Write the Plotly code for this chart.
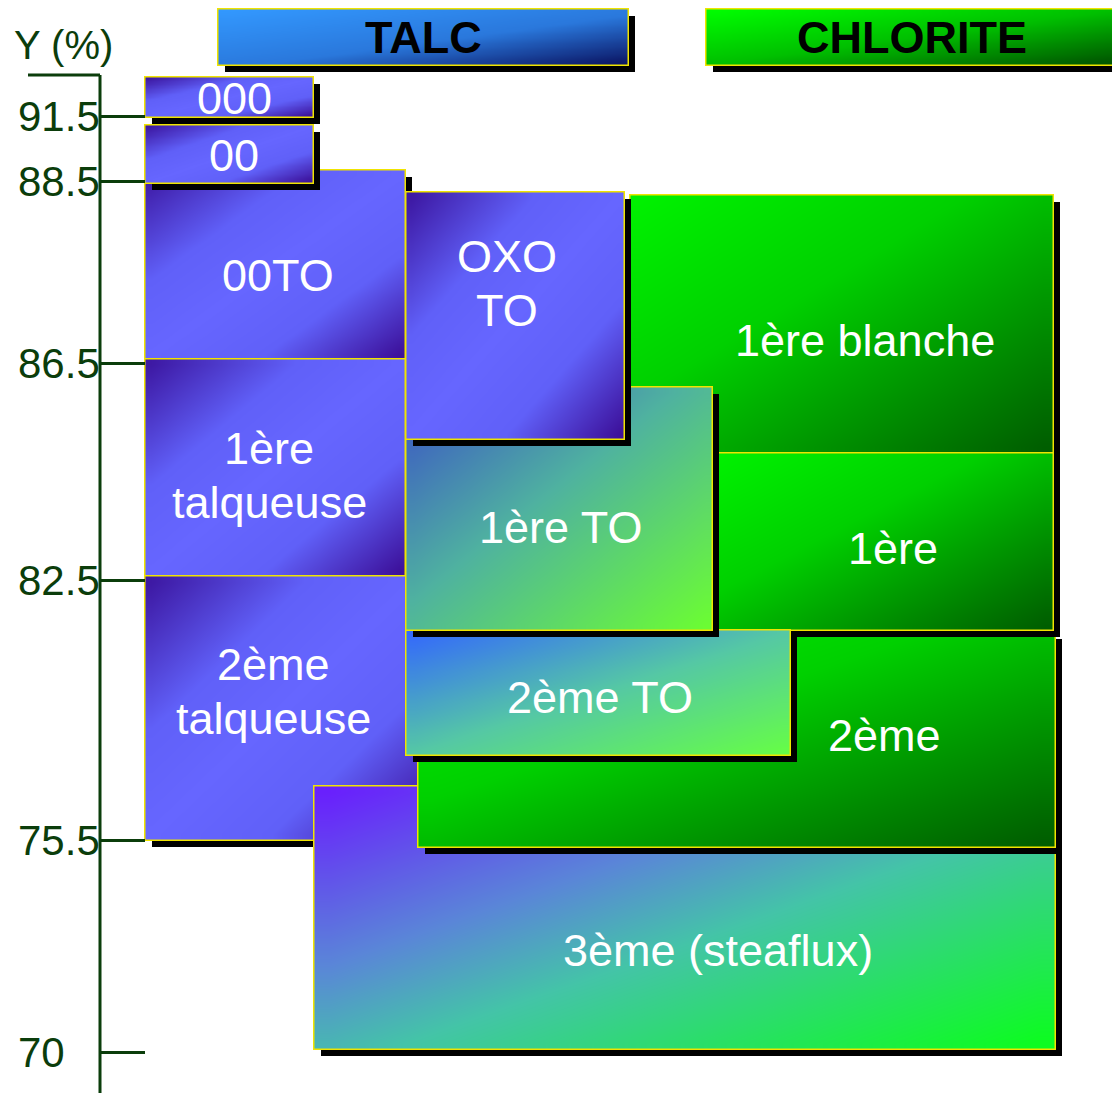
import numpy as np
import plotly.graph_objects as go

# schematic vertical scale (yield %), positions in drawing units (top = 0)
tick_labels = ["91.5", "88.5", "86.5", "82.5", "75.5", "70"]
tick_pos = [116, 181, 363, 580, 840, 1052]

# product boxes, listed in drawing order (back to front)
box_text = ["00TO", "1ère<br>talqueuse", "2ème<br>talqueuse", "3ème (steaflux)",
            "1ère blanche", "2ème", "1ère", "2ème TO", "1ère TO", "OXO<br>TO",
            "00", "000"]
box_x0 = [145, 145, 145, 314, 630, 418, 712, 406, 406, 406, 145, 145]
box_x1 = [405, 405, 420, 1055, 1053, 1055, 1053, 790, 712, 624, 313, 313]
box_y0 = [170, 359, 576, 786, 195, 632, 453, 630, 387, 192, 125, 77]
box_y1 = [359, 576, 840, 1049, 453, 847, 630, 755, 630, 439, 183, 117]
box_kind = ["talc", "talc", "talc", "steaflux", "chlorite", "chlorite", "chlorite",
            "to2", "to1", "talc", "talc", "talc"]
label_x = [278, 269, 273, 718, 865, 884, 893, 600, 560, 507, 234, 234]
label_y = [275, 475, 691, 950, 340, 735, 548, 697, 527, 283, 155, 98]

# header boxes
head_text = ["TALC", "CHLORITE"]
head_x0 = [218, 706]
head_x1 = [628, 1117]
head_y0 = [9, 9]
head_y1 = [65, 65]
head_kind = ["talc_head", "chlorite_head"]

scales = {
    "talc": [[0, "#3b149e"], [0.3, "#6060f8"], [0.5, "#6666ff"], [0.72, "#6060f8"], [1, "#3a0b94"]],
    "chlorite": [[0, "#00f200"], [0.4, "#00d000"], [1, "#005a00"]],
    "to1": [[0, "#3a4fc8"], [0.45, "#4fb2a0"], [1, "#6cff30"]],
    "to2": [[0, "#3366ff"], [0.5, "#55c8a5"], [1, "#66ff44"]],
    "steaflux": [[0, "#6a1aff"], [0.35, "#5a86d8"], [0.55, "#44c4a8"], [1, "#0aff1a"]],
    "talc_head": [[0, "#3399ff"], [0.55, "#2a78dc"], [1, "#0a1260"]],
    "chlorite_head": [[0, "#00ff00"], [0.5, "#00c000"], [1, "#005000"]],
}

AXIS_GREEN = "#0b3d0b"
BORDER = "#f0e400"
SHADOW = 7
LINE_GAP = 54
FONT = "Liberation Sans, Arial, sans-serif"
PAGE_PAD = 8  # the page body margin around the figure

fig = go.Figure()


def solid(x0, x1, y0, y1, color):
    fig.add_trace(go.Heatmap(
        x=[x0, x1], y=[y0, y1], z=[[1]],
        colorscale=[[0, color], [1, color]],
        showscale=False, hoverinfo="skip"))


def gradient(x0, x1, y0, y1, kind, n=24):
    u = (np.arange(n) + 0.5) / n
    z = (u[None, :] + u[:, None]) / 2
    fig.add_trace(go.Heatmap(
        x=np.linspace(x0, x1, n + 1), y=np.linspace(y0, y1, n + 1), z=z,
        zmin=0, zmax=1, zsmooth="best",
        colorscale=scales[kind], showscale=False, hoverinfo="skip"))


def box(x0, x1, y0, y1, kind):
    solid(x0 + SHADOW, x1 + SHADOW, y0 + SHADOW, y1 + SHADOW, "black")
    solid(x0 - 1, x1 + 1, y0 - 1, y1 + 1, BORDER)
    gradient(x0 + 0.5, x1 - 0.5, y0 + 0.5, y1 - 0.5, kind)


for i in range(len(head_text)):
    box(head_x0[i], head_x1[i], head_y0[i], head_y1[i], head_kind[i])
    fig.add_annotation(x=(head_x0[i] + head_x1[i]) / 2, y=(head_y0[i] + head_y1[i]) / 2,
                       text=head_text[i], showarrow=False,
                       font=dict(family=FONT, size=45, color="black", weight=700))

for i in range(len(box_text)):
    box(box_x0[i], box_x1[i], box_y0[i], box_y1[i], box_kind[i])
    lines = box_text[i].split("<br>")
    for k, line in enumerate(lines):
        y = label_y[i] + (k - (len(lines) - 1) / 2) * LINE_GAP
        fig.add_annotation(x=label_x[i], y=y, text=line, showarrow=False,
                           font=dict(family=FONT, size=45, color="white"))

# axis spine and top stub
fig.add_shape(type="line", x0=100, x1=100, y0=75, y1=1093,
              line=dict(color=AXIS_GREEN, width=3))
fig.add_shape(type="line", x0=28, x1=100, y0=75, y1=75,
              line=dict(color=AXIS_GREEN, width=3))

for lab, pos in zip(tick_labels, tick_pos):
    fig.add_annotation(x=16, y=pos, text=lab, showarrow=False, xanchor="left",
                       font=dict(family=FONT, size=42, color=AXIS_GREEN))
fig.add_annotation(x=12, y=45, text="Y (%)", showarrow=False, xanchor="left",
                   font=dict(family=FONT, size=40, color=AXIS_GREEN))

W, H = 1120, 1093
fig.update_layout(
    width=W - PAGE_PAD, height=H - PAGE_PAD,
    margin=dict(l=0, r=0, t=0, b=0),
    paper_bgcolor="white", plot_bgcolor="white",
    showlegend=False,
    xaxis=dict(range=[PAGE_PAD, W], showgrid=False, zeroline=False,
               showticklabels=False, ticks=""),
    yaxis=dict(range=[H, PAGE_PAD], showgrid=False, zeroline=False, showline=False,
               anchor="free", position=(100 - PAGE_PAD) / (W - PAGE_PAD),
               tickmode="array", tickvals=tick_pos, ticktext=tick_labels,
               showticklabels=False, ticks="inside", ticklen=44, tickwidth=3,
               tickcolor=AXIS_GREEN),
)

fig.write_html("out.html")
